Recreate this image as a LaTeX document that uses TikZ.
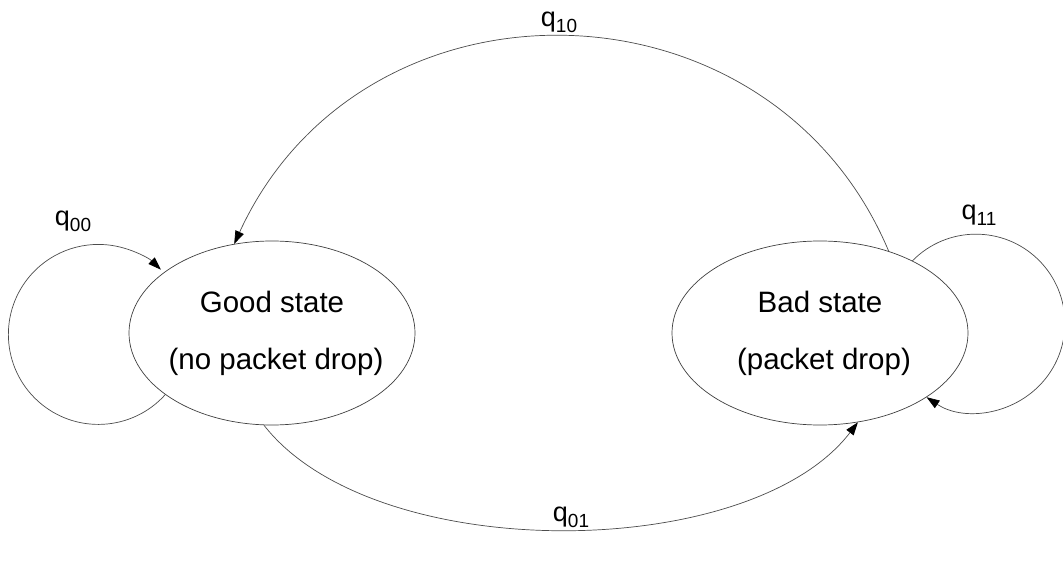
\documentclass[tikz,border=0pt]{standalone}
\usepackage{fontspec}
\setmainfont{Liberation Sans}
\usetikzlibrary{shapes.geometric,arrows.meta}
% transition label: q with a lowered, smaller index
\newcommand{\qlabel}[1]{{\fontsize{27}{27}\selectfont q}\raisebox{-6pt}{\fontsize{19}{19}\selectfont #1}}

\begin{document}
\begin{tikzpicture}[x=1pt,y=-1pt,
  state/.style={ellipse, draw=black!75, line width=0.7pt, inner xsep=-12pt,
    inner ysep=0pt, align=center, font=\fontsize{29.5}{57}\selectfont},
  link/.style={draw=black!70, line width=0.7pt,
    -{Triangle[length=13pt,width=9pt,color=black]}},
  lbl/.style={inner sep=0pt}]
\useasboundingbox (0,0) rectangle (1063,569);
\fill[white] (0,0) rectangle (1063,569);

% the two channel states
\node[state, minimum width=286pt, minimum height=184pt] (good) at (272,333)
  {Good state\\\hspace*{8pt}(no packet drop)};
\node[state, minimum width=296pt, minimum height=184pt] (bad) at (820,333)
  {Bad state\\\hspace*{8pt}(packet drop)};

% self loops
\draw[link] (good.210) arc[start angle=42, end angle=314, radius=90];
\draw[link] (bad.38) arc[start angle=224.5, end angle=483.7, radius=89];

% transitions between the states
\draw[link] (bad.50) .. controls +(-118,-281) and +(129,-281) .. (good.113);
\draw[link] (good.265) .. controls +(110,141) and +(-108,141) .. (bad.293);

% transition probabilities
\node[lbl] (q00) at (73,221) {\qlabel{00}};
\node[lbl] (q10) at (559,22) {\qlabel{10}};
\node[lbl] (q01) at (571,517) {\qlabel{01}};
\node[lbl] (q11) at (979,215) {\qlabel{11}};
\end{tikzpicture}
\end{document}
